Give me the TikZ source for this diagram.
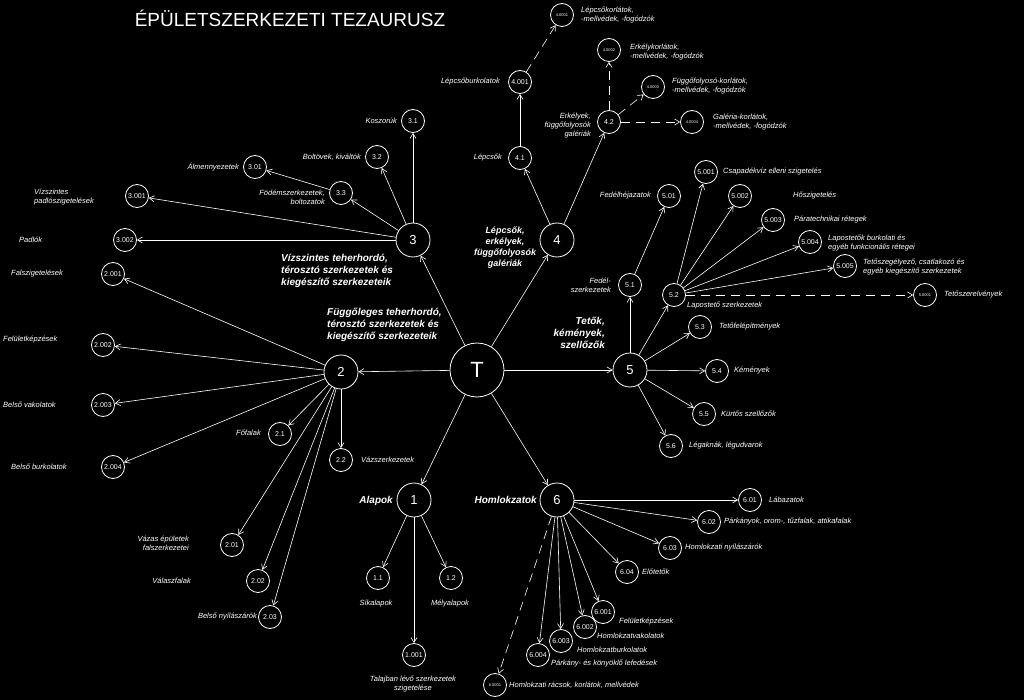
\documentclass[tikz,border=0pt]{standalone}
\usepackage{fontspec}
\setmainfont{Liberation Sans}
\usetikzlibrary{arrows.meta}
\begin{document}
\begin{tikzpicture}[x=1pt, y=-1pt,
    bignode/.style={circle, draw=white, thick, minimum size=54pt, inner sep=0pt, font=\fontsize{22}{22}\selectfont, text=white},
    mainnode/.style={circle, draw=white, thick, minimum size=34pt, inner sep=0pt, font=\fontsize{13}{13}\selectfont, text=white},
    subnode/.style={circle, draw=white, thick, minimum size=23pt, inner sep=0pt, font=\fontsize{7}{7}\selectfont, text=white},
    tinynode/.style={circle, draw=white, thick, minimum size=23pt, inner sep=0pt, font=\fontsize{4}{4}\selectfont, text=white},
    lbl/.style={text=white, font=\fontsize{7.5}{9}\itshape\selectfont, inner sep=1pt},
    bold/.style={text=white, font=\fontsize{10}{12}\bfseries\itshape\selectfont, inner sep=1pt},
    arr/.style={-{Straight Barb[length=5pt,width=6pt]}, white, semithick},
    darr/.style={arr, dash pattern=on 9pt off 6pt}]
    \fill[black] (0,0) rectangle (1024,700);
    \node[text=white, font=\fontsize{19}{19}\selectfont] (title) at (290,18) {ÉPÜLETSZERKEZETI TEZAURUSZ};

    % Main nodes
    \node[bignode] (nodeT) at (477,370) {T};
    \node[mainnode] (node1) at (414,500) {1};
    \node[mainnode] (node2) at (341,372) {2};
    \node[mainnode] (node3) at (413,240) {3};
    \node[mainnode] (node4) at (557,240) {4};
    \node[mainnode] (node5) at (630,370) {5};
    \node[mainnode] (node6) at (557,500) {6};
    \foreach \n in {1,...,6} \draw[arr] (nodeT) -- (node\n);

    % Group 3
    \node[subnode] (node31) at (413,121) {3.1};
    \node[subnode] (node32) at (377,157) {3.2};
    \node[subnode] (node33) at (341,193) {3.3};
    \node[subnode] (node301) at (255,167) {3.01};
    \node[subnode] (node3001) at (137,196) {3.001};
    \node[subnode] (node3002) at (125,240) {3.002};
    \draw[arr] (node3) -- (node31);
    \draw[arr] (node3) -- (node32);
    \draw[arr] (node3) -- (node33);
    \draw[arr] (node33) -- (node301);
    \draw[arr] (node3) -- (node3001);
    \draw[arr] (node3) -- (node3002);
    \node[lbl, anchor=east] at (398,121) {Koszorúk};
    \node[lbl, anchor=east] at (362,157) {Boltövek, kiváltók};
    \node[lbl, anchor=east] at (240,167) {Álmennyezetek};
    \node[lbl, anchor=east, align=right] at (326,197) {Födémszerkezetek,\\boltozatok};
    \node[lbl, anchor=west, align=left] at (33,197) {Vízszintes\\padlószigetelések};
    \node[lbl, anchor=west] at (18,240) {Padlók};
    \node[bold, anchor=west, align=left] at (280,271) {Vízszintes teherhordó,\\térosztó szerkezetek és\\kiegészítő szerkezeteik};

    % Group 2
    \node[subnode] (node2001) at (113,274) {2.001};
    \node[subnode] (node2002) at (103,345) {2.002};
    \node[subnode] (node2003) at (103,405) {2.003};
    \node[subnode] (node2004) at (113,467) {2.004};
    \node[subnode] (node21) at (280,434) {2.1};
    \node[subnode] (node22) at (341,460) {2.2};
    \node[subnode] (node201) at (232,545) {2.01};
    \node[subnode] (node202) at (258,581) {2.02};
    \node[subnode] (node203) at (270,617) {2.03};
    \foreach \m in {2001,2002,2003,2004,21,22,201,202,203} \draw[arr] (node2) -- (node\m);
    \node[bold, anchor=west, align=left] at (326,325) {Függőleges teherhordó,\\térosztó szerkezetek és\\kiegészítő szerkezeteik};
    \node[lbl, anchor=west] at (10,274) {Falszigetelések};
    \node[lbl, anchor=west] at (2,340) {Felületképzések};
    \node[lbl, anchor=west] at (2,405) {Belső vakolatok};
    \node[lbl, anchor=west] at (10,467) {Belső burkolatok};
    \node[lbl, anchor=east] at (262,433) {Főfalak};
    \node[lbl, anchor=west] at (360,460) {Vázszerkezetek};
    \node[lbl, anchor=east, align=right] at (190,543) {Vázas épületek\\falszerkezetei};
    \node[lbl, anchor=east] at (192,581) {Válaszfalak};
    \node[lbl, anchor=east] at (258,617) {Belső nyílászárók};

    % Group 1
    \node[subnode] (node11) at (378,578) {1.1};
    \node[subnode] (node12) at (451,578) {1.2};
    \node[subnode] (node1001) at (414,655) {1.001};
    \foreach \m in {11,12,1001} \draw[arr] (node1) -- (node\m);
    \node[bold, anchor=east] at (394,501) {Alapok};
    \node[lbl] at (376,604) {Síkalapok};
    \node[lbl] at (450,604) {Mélyalapok};
    \node[lbl, align=center] at (413,684) {Talajban lévő szerkezetek\\szigetelése};

    % Group 6
    \node[subnode] (node601) at (750,500) {6.01};
    \node[subnode] (node602) at (709,522) {6.02};
    \node[subnode] (node603) at (670,548) {6.03};
    \node[subnode] (node604) at (627,572) {6.04};
    \node[subnode] (node6001) at (603,612) {6.001};
    \node[subnode] (node6002) at (585,627) {6.002};
    \node[subnode] (node6003) at (561,641) {6.003};
    \node[subnode] (node6004) at (538,655) {6.004};
    \node[tinynode] (node60001) at (495,685) {6.0001};
    \foreach \m in {601,602,603,604,6001,6002,6003,6004} \draw[arr] (node6) -- (node\m);
    \draw[darr] (node6) -- (node60001);
    \node[bold, anchor=east] at (538,500) {Homlokzatok};
    \node[lbl, anchor=west] at (768,500) {Lábazatok};
    \node[lbl, anchor=west] at (723,522) {Párkányok, orom-, tűzfalak, attikafalak};
    \node[lbl, anchor=west] at (684,548) {Homlokzati nyílászárók};
    \node[lbl, anchor=west] at (641,572) {Előtetők};
    \node[lbl, anchor=west] at (618,622) {Felületképzések};
    \node[lbl, anchor=west] at (596,636) {Homlokzatvakolatok};
    \node[lbl, anchor=west] at (576,650) {Homlokzatburkolatok};
    \node[lbl, anchor=west] at (550,664) {Párkány- és könyöklő lefedések};
    \node[lbl, anchor=west] at (508,685) {Homlokzati rácsok, korlátok, mellvédek};

    % Group 5
    \node[subnode] (node51) at (630,285) {5.1};
    \node[subnode] (node501) at (669,196) {5.01};
    \node[subnode] (node52) at (674,295) {5.2};
    \node[subnode] (node5001) at (706,172) {5.001};
    \node[subnode] (node5002) at (740,196) {5.002};
    \node[subnode] (node5003) at (773,220) {5.003};
    \node[subnode] (node5004) at (810,242) {5.004};
    \node[subnode] (node5005) at (845,266) {5.005};
    \node[tinynode] (node50001) at (925,295) {5.0001};
    \node[subnode] (node53) at (700,327) {5.3};
    \node[subnode] (node54) at (717,371) {5.4};
    \node[subnode] (node55) at (704,414) {5.5};
    \node[subnode] (node56) at (671,446) {5.6};
    \foreach \m in {51,52,53,54,55,56} \draw[arr] (node5) -- (node\m);
    \draw[arr] (node51) -- (node501);
    \foreach \m in {5001,5002,5003,5004,5005} \draw[arr] (node52) -- (node\m);
    \draw[darr] (node52) -- (node50001);
    \node[bold, anchor=east, align=right] at (606,333) {Tetők,\\kémények,\\szellőzők};
    \node[lbl, anchor=east, align=right] at (612,285) {Fedél-\\szerkezetek};
    \node[lbl, anchor=east] at (652,196) {Fedélhéjazatok};
    \node[lbl, anchor=west] at (722,172) {Csapadékvíz elleni szigetelés};
    \node[lbl, anchor=west] at (792,196) {Hőszigetelés};
    \node[lbl, anchor=west] at (793,220) {Páratechnikai rétegek};
    \node[lbl, anchor=west, align=left] at (827,243) {Lapostetők burkolati és\\egyéb funkcionális rétegei};
    \node[lbl, anchor=west, align=left] at (862,267) {Tetőszegélyező, csatlakozó és\\egyéb kiegészítő szerkezetek};
    \node[lbl, anchor=west] at (943,295) {Tetőszerelvények};
    \node[lbl, anchor=west] at (686,306) {Lapostető szerkezetek};
    \node[lbl, anchor=west] at (718,327) {Tetőfelépítmények};
    \node[lbl, anchor=west] at (733,371) {Kémények};
    \node[lbl, anchor=west] at (720,414) {Kürtős szellőzők};
    \node[lbl, anchor=west] at (688,446) {Légaknák, légudvarok};

    % Group 4
    \node[subnode] (node41) at (520,158) {4.1};
    \node[subnode] (node4001) at (520,82) {4.001};
    \node[tinynode] (node40001) at (562,15) {4.0001};
    \node[subnode] (node42) at (609,122) {4.2};
    \node[tinynode] (node40002) at (609,50) {4.0002};
    \node[tinynode] (node40003) at (653,87) {4.0003};
    \node[tinynode] (node40004) at (692,122) {4.0004};
    \draw[arr] (node4) -- (node41);
    \draw[arr] (node4) -- (node42);
    \draw[arr] (node41) -- (node4001);
    \draw[darr] (node4001) -- (node40001);
    \draw[darr] (node42) -- (node40002);
    \draw[darr] (node42) -- (node40003);
    \draw[darr] (node42) -- (node40004);
    \node[bold, align=center, font=\fontsize{9}{11}\bfseries\itshape\selectfont] at (505,248) {Lépcsők,\\erkélyek,\\függőfolyosók\\galériák};
    \node[lbl, anchor=east] at (503,158) {Lépcsők};
    \node[lbl, anchor=east] at (501,82) {Lépcsőburkolatok};
    \node[lbl, anchor=east, align=right] at (592,126) {Erkélyek,\\függőfolyosók\\galériák};
    \node[lbl, anchor=west, align=left] at (580,15) {Lépcsőkorlátok,\\-mellvédek, -fogódzók};
    \node[lbl, anchor=west, align=left] at (629,52) {Erkélykorlátok,\\-mellvédek, -fogódzók};
    \node[lbl, anchor=west, align=left] at (671,86) {Függőfolyosó-korlátok,\\-mellvédek, -fogódzók};
    \node[lbl, anchor=west, align=left] at (712,122) {Galéria-korlátok,\\-mellvédek, -fogódzók};
\end{tikzpicture}
\end{document}
